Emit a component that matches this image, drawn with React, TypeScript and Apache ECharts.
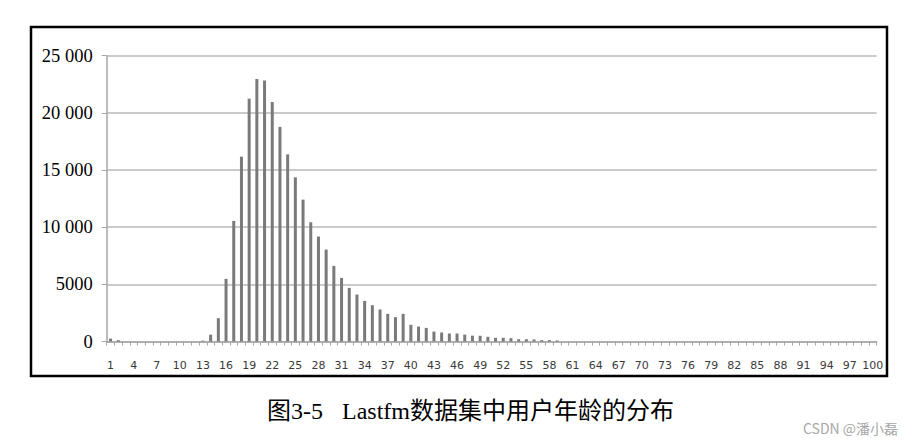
import React, { useEffect, useRef } from "react";
import * as echarts from "echarts";

const ages: string[] = Array.from({ length: 100 }, (_, i) => String(i + 1));

const userCounts: number[] = [
  250, 120, 0, 0, 0, 0, 0, 0, 0, 0,
  0, 0, 80, 600, 2040, 5480, 10550, 16170, 21240, 22960,
  22840, 20950, 18770, 16370, 14360, 12410, 10430, 9180, 8040, 6610,
  5560, 4690, 4110, 3550, 3180, 2800, 2420, 2130, 2420, 1460,
  1310, 1190, 870, 790, 700, 700, 600, 510, 500, 410,
  320, 320, 290, 200, 200, 180, 120, 120, 90, 0,
  0, 0, 0, 0, 0, 0, 0, 0, 0, 0,
  0, 0, 0, 0, 0, 0, 0, 0, 0, 0,
  0, 0, 0, 0, 0, 0, 0, 0, 0, 0,
  0, 0, 0, 0, 0, 0, 0, 0, 0, 0,
];

const yTicks: number[] = [0, 5000, 10000, 15000, 20000, 25000];

const captionPrefix = "图3-5";
const captionText = "Lastfm数据集中用户年龄的分布";
const watermark = "CSDN @潘小磊";

function formatY(v: number): string {
  if (v < 10000) return String(v);
  const s = String(v);
  return s.slice(0, s.length - 3) + " " + s.slice(s.length - 3);
}

export default function App() {
  const ref = useRef<HTMLDivElement>(null);
  useEffect(() => {
    document.body.style.margin = "0";
    if (!ref.current) return;
    const chart = echarts.init(ref.current, null, { renderer: "svg" });
    chart.setOption({
      animation: false,
      backgroundColor: "#ffffff",
      grid: { left: 106.7, right: 45.3, top: 55.7, bottom: 104.5, containLabel: false },
      xAxis: {
        type: "category",
        data: ages,
        boundaryGap: true,
        axisLine: { show: true, lineStyle: { color: "#a6a6a6", width: 1.5 } },
        axisTick: { show: true, interval: 0, length: 4, lineStyle: { color: "#a6a6a6", width: 1 } },
        axisLabel: {
          interval: 2,
          margin: 18,
          fontFamily: "DejaVu Sans",
          fontSize: 11,
          color: "#3a3a3a",
        },
        splitLine: { show: false },
      },
      yAxis: {
        type: "value",
        min: yTicks[0],
        max: yTicks[yTicks.length - 1],
        interval: 5000,
        axisLine: { show: true, lineStyle: { color: "#a6a6a6", width: 1.5 } },
        axisTick: { show: true, length: 5, lineStyle: { color: "#a6a6a6", width: 1 } },
        axisLabel: {
          margin: 14,
          fontFamily: "Liberation Serif",
          fontSize: 18.5,
          color: "#000000",
          formatter: (v: number) => formatY(v),
        },
        splitLine: { show: true, lineStyle: { color: "#b8b8b8", width: 1.5 } },
      },
      series: [
        {
          type: "bar",
          data: userCounts,
          barWidth: 3,
          itemStyle: { color: "#7a7a7a" },
        },
      ],
      graphic: [
        {
          type: "rect",
          shape: { x: 31, y: 27, width: 856, height: 349 },
          style: { fill: "none", stroke: "#000000", lineWidth: 2.5 },
          silent: true,
        },
        {
          type: "text",
          left: 267,
          top: 399,
          style: {
            text: captionPrefix,
            fontFamily: "Liberation Serif, 'Noto Sans CJK SC'",
            fontSize: 24,
            fill: "#000000",
          },
        },
        {
          type: "text",
          left: 342,
          top: 399,
          style: {
            text: captionText,
            fontFamily: "Liberation Serif, 'Noto Sans CJK SC'",
            fontSize: 24,
            fill: "#000000",
          },
        },
        {
          type: "text",
          left: 803,
          top: 421,
          style: {
            text: watermark,
            fontFamily: "'Noto Sans CJK SC', 'Noto Sans'",
            fontSize: 14,
            fill: "#a8a8a8",
          },
        },
      ],
    });
    return () => chart.dispose();
  }, []);
  return <div ref={ref} style={{ width: 922, height: 446 }} />;
}
